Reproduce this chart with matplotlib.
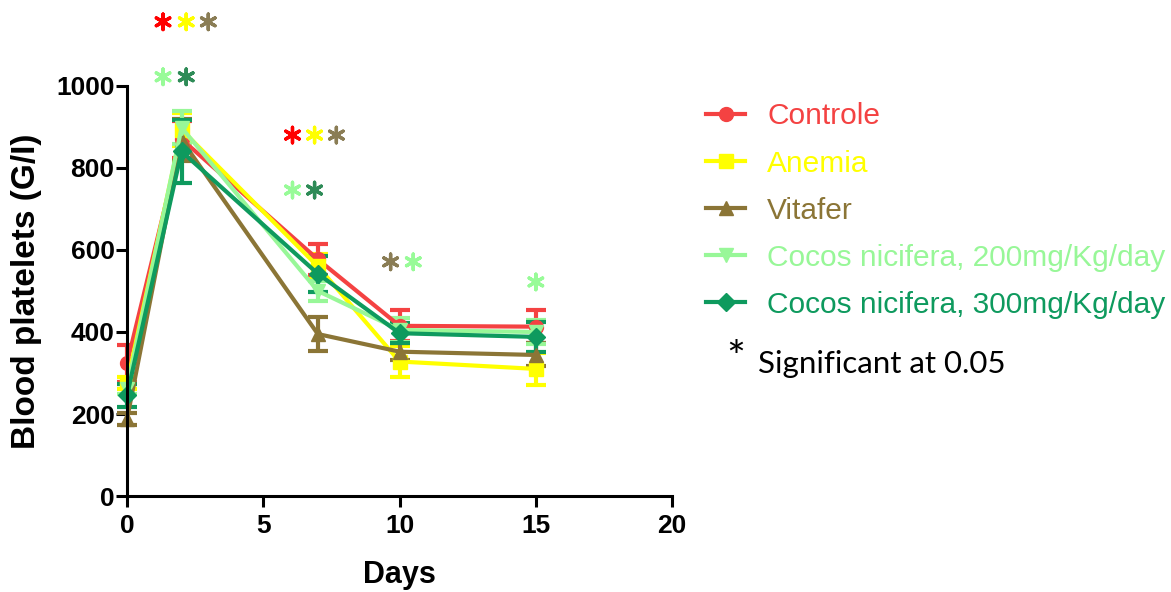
import matplotlib
matplotlib.use("Agg")
import matplotlib.pyplot as plt

days = [0, 2, 7, 10, 15]
series_names = ["Controle", "Anemia", "Vitafer",
                "Cocos nicifera, 200mg/Kg/day", "Cocos nicifera, 300mg/Kg/day"]
controle = [324, 870, 577, 415, 413]
controle_err = [45, 45, 37, 38, 40]
anemia = [275, 893, 560, 328, 310]
anemia_err = [15, 40, 30, 38, 40]
vitafer = [188, 868, 395, 352, 344]
vitafer_err = [15, 50, 42, 20, 28]
cocos200 = [262, 898, 500, 405, 400]
cocos200_err = [12, 40, 25, 30, 30]
cocos300 = [246, 840, 542, 397, 388]
cocos300_err = [28, 77, 44, 25, 37]

x_ticks = [0, 5, 10, 15, 20]
y_ticks = [0, 200, 400, 600, 800, 1000]

# significance asterisks: (day position, height, colour)
sig_x = [1.32, 2.17, 2.98, 1.32, 2.17, 6.07, 6.88, 7.68, 6.07, 6.88, 9.67, 10.5, 15.0]
sig_y = [1156, 1156, 1156, 1022, 1022, 880, 880, 880, 746, 746, 571, 571, 522]
sig_c = ["#ff0000", "#ffff00", "#8a7d55", "#98fb98", "#2e8b57",
         "#ff0000", "#ffff00", "#8a7d55", "#98fb98", "#2e8b57",
         "#8a7d55", "#98fb98", "#98fb98"]

colors = ["#f44242", "#ffff00", "#8b7536", "#98f798", "#0e9a5e"]
markers = ["o", "s", "^", "v", "D"]
msizes = [10, 10, 10, 10, 9]

data = [controle, anemia, vitafer, cocos200, cocos300]
errs = [controle_err, anemia_err, vitafer_err, cocos200_err, cocos300_err]

fig = plt.figure(figsize=(11.71, 5.92), dpi=100)
ax = fig.add_axes([0.1085, 0.162, 0.4655, 0.693])

handles = []
for name, y, e, c, m, ms in zip(series_names, data, errs, colors, markers, msizes):
    h = ax.errorbar(days, y, yerr=e, color=c, marker=m, markersize=ms,
                    linewidth=3, elinewidth=3, capsize=7, capthick=3,
                    clip_on=False, label=name)
    for art in h.lines[1] + h.lines[2]:
        art.set_clip_on(False)
    h.lines[0].set_clip_on(False)
    handles.append(h)

ax.scatter(sig_x, sig_y, marker=(6, 2, 0), s=125, c=sig_c, linewidths=2.4,
           clip_on=False, zorder=5)

ax.set_xlim(0, 20)
ax.set_ylim(0, 1000)
ax.set_xticks(x_ticks)
ax.set_yticks(y_ticks)
for s in ["top", "right"]:
    ax.spines[s].set_visible(False)
for s in ["left", "bottom"]:
    ax.spines[s].set_linewidth(2.2)
ax.tick_params(width=2.2, length=8, direction="out")
ax.tick_params(axis="x", pad=5)
ax.tick_params(axis="y", pad=1)
for lab in ax.get_xticklabels() + ax.get_yticklabels():
    lab.set_fontfamily("Liberation Sans")
    lab.set_fontweight("bold")
    lab.set_fontsize(19)

ax.set_xlabel("Days", fontfamily="Liberation Sans", fontweight="bold",
              fontsize=22, labelpad=16)
ax.set_ylabel("Blood platelets (G/I)", fontfamily="Liberation Sans",
              fontweight="bold", fontsize=24, labelpad=10)

leg = ax.legend(handles=[h.lines[0] for h in handles], labels=series_names,
                loc="upper left", bbox_to_anchor=(0.603, 0.827),
                bbox_transform=fig.transFigure, frameon=False,
                prop={"family": "Liberation Sans", "size": 21.5},
                handlelength=1.3, handletextpad=0.74, labelspacing=0.64,
                borderaxespad=0, borderpad=0)
for t, c in zip(leg.get_texts(), colors):
    t.set_color(c)

fig.text(0.628, 0.372, "*", fontsize=32, color="black", family="Lato", ha="center")
fig.text(0.647, 0.37, "Significant at 0.05", fontsize=22.5, color="black", family="Lato")

fig.savefig("out.png", dpi=100)
